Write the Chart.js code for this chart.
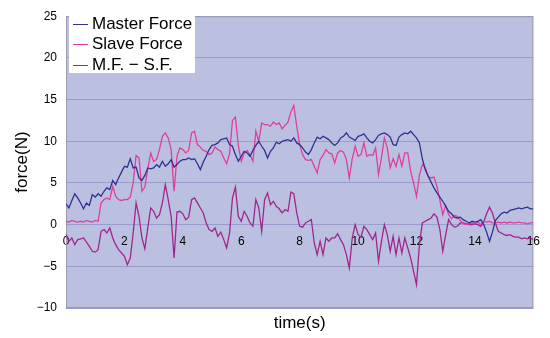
<!DOCTYPE html>
<html>
<head>
<meta charset="utf-8">
<title>force vs time</title>
<script src="https://cdn.jsdelivr.net/npm/chart.js@4.4.0/dist/chart.umd.min.js"></script>
<style>
	body { margin: 0; background: #ffffff; }
	#wrap { position: relative; width: 550px; height: 338px; }
	#legend {
		position: absolute; left: 69px; top: 12px; width: 126px; height: 61px;
		background: #ffffff; padding-top: 2px; box-sizing: border-box;
		font: 17px 'Liberation Sans', Arial, sans-serif; color: #000;
	}
	#legend div { height: 20.4px; line-height: 20.4px; white-space: nowrap; padding-left: 4px; }
	#legend .sw { display: inline-block; width: 15px; height: 0; border-top: 1.5px solid; vertical-align: middle; margin-right: 4px; }
</style>
</head>
<body>
<div id="wrap">
	<canvas id="force-chart"></canvas>
	<div id="legend"></div>
</div>
<script>
// samples every 0.1 s, from 0 to 16 s
const sampleStep = 0.1;

const seriesNames = [ 'Master Force', 'Slave Force', 'M.F. \u2212 S.F.' ];

const masterForce = [
	2.5, 2.0, 2.9, 3.7, 3.2, 2.6, 1.9, 2.6, 2.3, 3.6, 3.3, 3.7, 3.4, 4.0, 4.4, 4.2, 5.3, 4.8, 5.6, 6.3, 7.0,
	6.9, 7.9, 6.8, 6.9, 5.6, 5.3, 5.9, 6.8, 6.7, 6.8,
	7.2, 6.9, 7.6, 7.0, 7.3, 7.8, 6.9, 7.2, 7.6, 7.8,
	7.8, 8.0, 7.8, 7.9, 7.3, 6.6, 7.5, 8.2, 9.0, 9.5,
	9.6, 9.8, 10.2, 10.3, 10.4, 9.6, 9.4, 8.4, 7.6, 8.2,
	8.8, 8.6, 8.2, 8.9, 9.5, 10.0, 9.4, 8.9, 8.0, 8.8,
	9.2, 9.9, 9.7, 10.0, 10.1, 10.2, 10.0, 10.4, 9.8, 9.6,
	9.2, 8.7, 8.4, 9.0, 9.8, 10.5, 10.3, 10.6, 10.4, 10.2,
	9.8, 9.5, 9.8, 10.4, 10.6, 11.0, 10.5, 10.3, 10.1, 10.6,
	10.7, 10.9, 10.4, 10.0, 9.8, 10.2, 10.7, 10.9, 11.0, 10.8,
	10.5, 9.6, 9.5, 10.5, 10.8, 11.0, 10.9, 11.2, 10.8, 10.4,
	9.8, 7.9, 6.6, 5.8, 5.1, 4.4, 3.8, 3.3, 2.8, 2.2,
	1.6, 1.3, 0.9, 0.8, 0.9, 0.6, 0.4, 0.2, 0.4, 0.3,
	0.4, 0.6, 0.0, -0.9, -2.0, -0.9, 0.5, 0.9, 1.3, 1.5,
	1.4, 1.7, 1.8, 1.9, 2.0, 1.9, 2.0, 2.1, 1.9, 1.9
];

const slaveForce = [
	0.4, 0.3, 0.5, 0.4, 0.3, 0.4, 0.3, 0.5, 0.4, 0.3, 0.5, 0.4, 2.6, 3.0, 3.2, 3.0, 4.6, 3.4, 3.0, 2.9, 3.0,
	3.0, 3.3, 5.0, 8.3, 8.0, 4.0, 4.5, 6.7, 8.6, 7.6,
	7.8, 9.0, 10.6, 11.0, 10.4, 9.0, 4.0, 8.2, 9.2, 9.0,
	8.6, 8.9, 11.0, 11.2, 9.6, 9.3, 8.9, 8.8, 8.4, 8.6,
	9.3, 9.0, 8.8, 8.0, 7.3, 8.5, 12.5, 12.9, 9.5, 7.6,
	8.6, 8.9, 8.4, 7.6, 11.2, 10.0, 12.2, 12.0, 12.0, 11.8,
	12.3, 12.0, 12.2, 11.5, 11.9, 12.3, 13.5, 14.3, 11.8, 9.6,
	8.4, 7.8, 7.7, 7.8, 7.0, 6.2, 7.8, 8.3, 9.0, 8.6,
	8.5, 7.4, 8.6, 8.9, 8.7, 7.8, 5.6, 7.9, 9.4, 8.2,
	8.4, 9.8, 8.2, 8.4, 8.3, 9.2, 6.0, 8.0, 10.4, 9.2,
	6.8, 7.9, 7.0, 8.4, 7.0, 8.6, 8.6, 6.4, 5.0, 3.4,
	5.9, 7.2, 6.8, 5.8, 5.6, 5.7, 4.6, 2.9, 1.2, 2.3,
	1.2, 0.7, 1.1, 1.0, 0.5, 0.1, 0.0, 0.1, 0.2, 0.1,
	0.3, 0.0, 0.4, 0.3, 0.4, 0.2, 0.2, 0.3, 0.2, 0.3,
	0.2, 0.3, 0.2, 0.2, 0.3, 0.2, 0.2, 0.1, 0.2, 0.2
];

const forceDiff = [
	-1.2, -2.0, -1.6, -2.4, -1.8, -1.7, -1.6, -2.1, -2.6, -3.2, -3.3, -3.0, -0.8, -0.6, -1.0, -0.4, -1.6, -2.4, -3.0, -3.4, -3.8,
	-4.8, -4.0, -1.0, 2.6, 1.0, -1.6, -2.9, -0.4, 2.0, 1.6,
	0.8, 1.2, 2.6, 4.8, 3.0, 1.0, -4.0, 1.5, 1.6, 1.3,
	0.6, 0.9, 3.0, 3.2, 2.6, 2.0, 1.4, 0.2, -0.6, -0.8,
	-0.4, -1.4, -0.9, -1.8, -2.8, -1.0, 3.2, 4.5, 1.0, 0.4,
	1.6, 1.0, 0.2, -0.2, 3.0, 2.0, -0.8, 3.0, 3.8, 2.4,
	2.8, 2.2, 1.9, 1.4, 1.8, 1.6, 3.9, 3.7, 1.4, -0.2,
	-0.3, 0.2, 0.4, 0.6, -2.2, -3.6, -2.0, -3.6, -1.6, -2.0,
	-1.6, -1.6, -1.1, -1.8, -2.4, -3.6, -5.2, -1.6, 0.0, -1.2,
	-1.5, -0.2, -0.6, -1.2, -1.8, -1.0, -4.4, -2.0, 0.0, -1.2,
	-3.2, -1.4, -3.6, -1.6, -3.4, -1.6, -2.8, -4.0, -5.6, -7.2,
	-2.4, 0.2, 0.4, 0.6, 0.8, 1.3, 0.9, -0.6, -3.2, -1.2,
	0.6, 0.0, -0.3, -0.2, 0.2, 0.2, 0.1, 0.0, 0.0, 0.1,
	0.0, -0.2, 0.3, 1.3, 2.1, 1.4, 0.2, -0.8, -1.0, -1.2,
	-1.3, -1.2, -1.4, -1.5, -1.5, -1.7, -1.6, -1.7, -1.6, -1.8
];

const seriesColors = [ '#2e3192', '#e23d9c', '#a0268e' ];

const plotBg     = '#bcc0e0';
const gridColour = '#9a9dcc';
const fontFamily = "'Liberation Sans', Arial, sans-serif";

function toPoints( values) {
	return values.map( ( v, i) => ({ x: Math.round( i * sampleStep * 10) / 10, y: v }));
}

// lavender plot area with grey frame
const plotAreaPlugin = {
	id: 'plotArea',
	beforeDraw( chart) {
		const { ctx, chartArea: a } = chart;
		ctx.save();
		ctx.fillStyle = plotBg;
		ctx.fillRect( a.left, a.top, a.width, a.height);
		ctx.restore();
	},
	beforeDatasetsDraw( chart) {
		const { ctx, chartArea: a } = chart;
		ctx.save();
		ctx.strokeStyle = '#9c9cae';
		ctx.lineWidth = 1;
		ctx.strokeRect( a.left + 0.5, a.top + 0.5, a.width - 1, a.height - 1);
		ctx.restore();
	}
};

Chart.defaults.font.family = fontFamily;
Chart.defaults.color = '#000000';

const datasets = [ masterForce, slaveForce, forceDiff ].map( ( values, i) => ({
	label: seriesNames[i],
	data: toPoints( values),
	borderColor: seriesColors[i],
	backgroundColor: seriesColors[i],
	borderWidth: 1.3,
	pointRadius: 0,
	tension: 0,
	fill: false
}));

const ctx = document.getElementById( 'force-chart').getContext( '2d');
const chart = new Chart( ctx, {
	type: 'line',
	data: { datasets: datasets },
	plugins: [ plotAreaPlugin ],
	options: {
		responsive: true,
		maintainAspectRatio: false,
		animation: false,
		layout: { padding: { top: 11, right: 13, left: 0, bottom: 0 } },
		plugins: {
			legend: { display: false },
			tooltip: { enabled: false }
		},
		scales: {
			x: {
				type: 'linear',
				min: 0,
				max: 16,
				position: { y: 0 },
				ticks: { stepSize: 2, padding: 10, maxRotation: 0, font: { size: 12 } },
				grid: { display: false, drawTicks: false },
				border: { display: false }
			},
			// bottom axis only carries the "time(s)" title
			xTitle: {
				type: 'linear',
				position: 'bottom',
				min: 0,
				max: 16,
				ticks: { display: false },
				grid: { display: false, drawTicks: false },
				border: { display: false },
				title: { display: true, text: 'time(s)', font: { size: 17 }, padding: { top: 0, bottom: 4 } },
				afterFit( scale) { scale.height = 30; }
			},
			y: {
				min: -10,
				max: 25,
				ticks: {
					stepSize: 5,
					padding: 9,
					font: { size: 12 },
					callback: v => v < 0 ? '\u2212' + Math.abs( v) : '' + v
				},
				grid: { color: gridColour, drawTicks: false },
				border: { display: false },
				title: { display: true, text: 'force(N)', font: { size: 17 }, padding: { top: 12, bottom: 0 } },
				afterFit( scale) { scale.width = 66; }
			}
		}
	}
});

// legend box inside the plot, top left
const legendBox = document.getElementById( 'legend');
chart.data.datasets.forEach( ds => {
	const row = document.createElement( 'div');
	const sw = document.createElement( 'span');
	sw.className = 'sw';
	sw.style.borderTopColor = ds.borderColor;
	row.appendChild( sw);
	row.appendChild( document.createTextNode( ds.label));
	legendBox.appendChild( row);
});
</script>
</body>
</html>
